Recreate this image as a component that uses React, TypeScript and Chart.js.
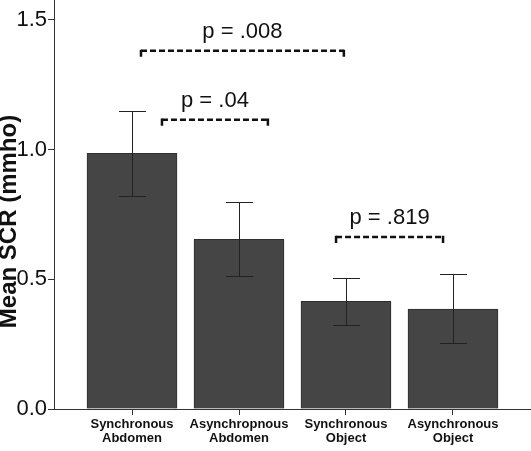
import React, { useEffect, useRef } from "react";
import { Chart, registerables } from "chart.js";

Chart.register(...registerables);

const categories: string[][] = [
  ["Synchronous", "Abdomen"],
  ["Asynchropnous", "Abdomen"],
  ["Synchronous", "Object"],
  ["Asynchronous", "Object"],
];
const means: number[] = [0.986, 0.654, 0.415, 0.385];
const errLow: number[] = [0.822, 0.514, 0.322, 0.254];
const errHigh: number[] = [1.149, 0.798, 0.507, 0.521];
const yTicks: number[] = [0, 0.5, 1.0, 1.5];
const yTitle = "Mean SCR (mmho)";

// brackets: x in category units, level in y units
const bracketFrom: number[] = [0.084, 0.28, 1.907];
const bracketTo: number[] = [1.98, 1.27, 2.907];
const bracketLevel: number[] = [1.381, 1.115, 0.663];
const bracketLabels: string[] = ["p = .008", "p = .04", "p = .819"];

const FONT = "'Liberation Sans', Arial, Helvetica, sans-serif";

const overlayPlugin = {
  id: "overlay",
  afterDatasetsDraw(chart: any) {
    const ctx = chart.ctx;
    const xs = chart.scales.x;
    const ys = chart.scales.y;
    ctx.save();
    // error bars
    ctx.strokeStyle = "#222";
    ctx.lineWidth = 1;
    for (let i = 0; i < means.length; i++) {
      const cx = Math.round(xs.getPixelForValue(i)) + 0.5;
      const yl = Math.round(ys.getPixelForValue(errLow[i])) + 0.5;
      const yh = Math.round(ys.getPixelForValue(errHigh[i])) + 0.5;
      ctx.beginPath();
      ctx.moveTo(cx, yl);
      ctx.lineTo(cx, yh);
      ctx.moveTo(cx - 13.5, yl);
      ctx.lineTo(cx + 13.5, yl);
      ctx.moveTo(cx - 13.5, yh);
      ctx.lineTo(cx + 13.5, yh);
      ctx.stroke();
    }
    // brackets
    for (let i = 0; i < bracketLabels.length; i++) {
      const x1 = xs.getPixelForValue(bracketFrom[i]);
      const x2 = xs.getPixelForValue(bracketTo[i]);
      const y = ys.getPixelForValue(bracketLevel[i]);
      ctx.strokeStyle = "#111";
      ctx.lineWidth = 2.5;
      ctx.setLineDash([6, 3]);
      ctx.beginPath();
      ctx.moveTo(x1, y);
      ctx.lineTo(x2, y);
      ctx.stroke();
      ctx.setLineDash([]);
      ctx.beginPath();
      ctx.moveTo(x1, y - 1.2);
      ctx.lineTo(x1, y + 6);
      ctx.moveTo(x2, y - 1.2);
      ctx.lineTo(x2, y + 6);
      ctx.stroke();
      ctx.fillStyle = "#111";
      ctx.font = `22px ${FONT}`;
      ctx.textAlign = "center";
      ctx.textBaseline = "alphabetic";
      ctx.fillText(bracketLabels[i], (x1 + x2) / 2, y - 13);
    }
    // y axis title
    const midY = (ys.getPixelForValue(0) + ys.getPixelForValue(1.5)) / 2 + 7;
    ctx.translate(9, midY);
    ctx.rotate(-Math.PI / 2);
    ctx.fillStyle = "#111";
    ctx.font = `bold 24px ${FONT}`;
    ctx.textAlign = "center";
    ctx.textBaseline = "middle";
    ctx.fillText(yTitle, 0, 0);
    ctx.restore();
  },
};

export default function App() {
  const ref = useRef<HTMLCanvasElement | null>(null);
  useEffect(() => {
    if (!ref.current) return;
    const chart = new Chart(ref.current, {
      type: "bar",
      data: {
        datasets: [
          {
            data: means.map((v, i) => ({ x: i, y: v })),
            backgroundColor: "#454545",
            borderColor: "#2e2e2e",
            borderWidth: 1,
            barThickness: 90,
          },
        ],
      },
      options: {
        animation: false,
        responsive: false,
        maintainAspectRatio: false,
        layout: { padding: 0 },
        plugins: {
          legend: { display: false },
          tooltip: { enabled: false },
        },
        scales: {
          x: {
            type: "linear",
            min: -0.729,
            max: 3.729,
            offset: false,
            afterBuildTicks: (s: any) => {
              s.ticks = categories.map((_, i) => ({ value: i }));
            },
            afterFit: (s: any) => {
              s.height = 42;
              s.paddingLeft = 0;
              s.paddingRight = 0;
            },
            border: { display: true, color: "#333", width: 1 },
            grid: {
              display: true,
              offset: false,
              drawOnChartArea: false,
              drawTicks: true,
              tickLength: 6,
              color: "#333",
            },
            ticks: {
              autoSkip: false,
              maxRotation: 0,
              padding: 2,
              color: "#111",
              font: { family: FONT, size: 13, weight: "bold", lineHeight: 1.1 },
              callback: (v: any) => categories[Math.round(Number(v))] ?? "",
            },
          },
          y: {
            min: 0,
            max: 1.577,
            afterBuildTicks: (s: any) => {
              s.ticks = yTicks.map((v) => ({ value: v }));
            },
            afterFit: (s: any) => {
              s.width = 54;
              s.paddingTop = 0;
              s.paddingBottom = 0;
            },
            border: { display: true, color: "#333", width: 1 },
            grid: {
              display: true,
              offset: false,
              drawOnChartArea: false,
              drawTicks: true,
              tickLength: 6,
              color: "#333",
            },
            title: { display: false },
            ticks: {
              color: "#111",
              padding: 1,
              font: { family: FONT, size: 22 },
              callback: (v: any) => Number(v).toFixed(1),
            },
          },
        },
      },
      plugins: [overlayPlugin],
    });
    return () => chart.destroy();
  }, []);
  return (
    <div style={{ position: "fixed", left: 0, top: 0, width: 531, height: 451, background: "#fff" }}>
      <canvas ref={ref} width={531} height={451} style={{ width: 531, height: 451, display: "block" }} />
    </div>
  );
}
